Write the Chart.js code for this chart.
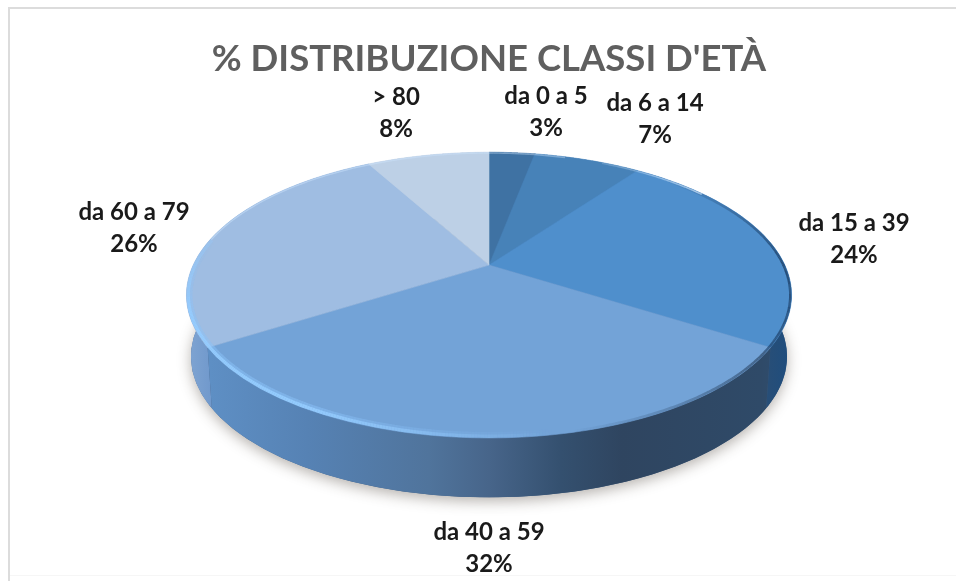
<!DOCTYPE html>
<html>
<head>
<meta charset="utf-8">
<title>Distribuzione classi d'età</title>
<script src="https://cdn.jsdelivr.net/npm/chart.js@4"></script>
<style>
    html, body { margin: 0; padding: 0; background: #fff; }
    canvas { display: block; filter: blur(0.5px); }
</style>
</head>
<body>
<canvas id="ageChart" width="956" height="581"></canvas>
<script>
// Data
const categories = ['da 0 a 5', 'da 6 a 14', 'da 15 a 39', 'da 40 a 59', 'da 60 a 79', '> 80'];
const percentages = [3, 7, 24, 32, 26, 8];
const chartTitle = "% DISTRIBUZIONE CLASSI D'ETÀ";

// Slice colours
const sliceColors = ['#3f72a3', '#4782b8', '#4f8fcc', '#73a3d7', '#9fbde2', '#bdd0e6'];

// Side wall colours, as stops of a gradient across the pie width
const wallStops = [
    [[0, '#3f72a3'], [1, '#3f72a3']],
    [[0, '#4782b8'], [1, '#4782b8']],
    [[0.93, '#2f4f72'], [1, '#1e4d7e']],
    [[0, '#6092c8'], [0.2, '#5682b4'], [0.4, '#50749c'], [0.5, '#47658a'], [0.62, '#34506f'], [0.72, '#2f4560'], [0.95, '#2f4a68'], [1, '#2f4f72']],
    [[0, '#80a5d2'], [0.04, '#7199cc'], [1, '#7199cc']],
    [[0, '#bdd0e6'], [1, '#bdd0e6']]
];

// Centres of the data labels
const labelAnchors = [[546, 112], [655, 119], [854, 239], [489, 548], [134, 228], [396, 113]];

// Perspective of the 3D pie
const spreadX = 1.644;
const spreadY = 0.759;
const tilt = 0.21;
const wallDepth = 62;
const wallShrink = 0.985;

function project(arc, angle, onBase) {
    const w = 1 - tilt * Math.sin(angle);
    const shrink = onBase ? wallShrink : 1;
    return {
        x: arc.x + spreadX * arc.outerRadius * shrink * Math.cos(angle) / w,
        y: arc.y + spreadY * arc.outerRadius * shrink * Math.sin(angle) / w + (onBase ? wallDepth : 0)
    };
}

function rimPoints(arc, from, to, onBase) {
    const points = [];
    const steps = 80;
    for (let i = 0; i <= steps; i++) {
        points.push(project(arc, from + (to - from) * i / steps, onBase));
    }
    return points;
}

function tracePoints(ctx, points) {
    points.forEach((p, i) => {
        if (i === 0) ctx.moveTo(p.x, p.y);
        else ctx.lineTo(p.x, p.y);
    });
}

function pieLeft(arc) {
    return arc.x - spreadX * arc.outerRadius / Math.sqrt(1 - tilt * tilt);
}

function pieWidth(arc) {
    return 2 * spreadX * arc.outerRadius / Math.sqrt(1 - tilt * tilt);
}

// Stroke a stretch of the top rim with the opacity fading along it
function strokeRim(ctx, arc, from, to, rgb, alphaFrom, alphaTo, width) {
    const points = rimPoints(arc, from, to, false);
    ctx.lineWidth = width;
    ctx.lineCap = 'butt';
    for (let i = 1; i < points.length; i++) {
        const alpha = alphaFrom + (alphaTo - alphaFrom) * i / (points.length - 1);
        ctx.strokeStyle = `rgba(${rgb}, ${alpha})`;
        ctx.beginPath();
        ctx.moveTo(points[i - 1].x, points[i - 1].y);
        ctx.lineTo(points[i].x, points[i].y);
        ctx.stroke();
    }
}

const pie3d = {
    id: 'pie3d',
    beforeDraw(chart) {
        // Frame of the chart, open on the right
        const ctx = chart.ctx;
        ctx.save();
        ctx.fillStyle = '#dcdcdc';
        ctx.fillRect(8, 7, chart.width - 8, 2);
        ctx.fillRect(8, 7, 2, chart.height - 7);
        ctx.fillStyle = '#f6f6f6';
        ctx.fillRect(10, 575, chart.width - 10, 1);
        ctx.restore();
    },
    beforeDatasetsDraw(chart) {
        const ctx = chart.ctx;
        const arcs = chart.getDatasetMeta(0).data;
        const first = arcs[0];
        const left = pieLeft(first);
        const width = pieWidth(first);

        ctx.save();

        // Soft shadow under the base
        ctx.save();
        ctx.shadowColor = 'rgba(60, 50, 40, 0.38)';
        ctx.shadowBlur = 14;
        ctx.shadowOffsetY = 4;
        ctx.fillStyle = '#3a5a80';
        ctx.beginPath();
        tracePoints(ctx, rimPoints(first, 0, Math.PI * 2, true));
        ctx.closePath();
        ctx.fill();
        ctx.restore();

        // Side wall
        arcs.forEach((arc, i) => {
            const gradient = ctx.createLinearGradient(left, 0, left + width, 0);
            wallStops[i].forEach(s => gradient.addColorStop(s[0], s[1]));
            const top = rimPoints(arc, arc.startAngle, arc.endAngle, false);
            const base = rimPoints(arc, arc.startAngle, arc.endAngle, true).reverse();
            ctx.beginPath();
            tracePoints(ctx, top.concat(base));
            ctx.closePath();
            ctx.fillStyle = gradient;
            ctx.fill();
        });

        // Top face
        arcs.forEach((arc, i) => {
            ctx.beginPath();
            ctx.moveTo(arc.x, arc.y);
            tracePoints(ctx, rimPoints(arc, arc.startAngle, arc.endAngle, false));
            ctx.lineTo(arc.x, arc.y);
            ctx.closePath();
            ctx.fillStyle = sliceColors[i];
            ctx.strokeStyle = sliceColors[i];
            ctx.lineWidth = 0.6;
            ctx.fill();
            ctx.stroke();
        });

        // Bevel of the rim, kept inside the top face: dark on the right, light on the left
        ctx.save();
        ctx.beginPath();
        tracePoints(ctx, rimPoints(first, 0, Math.PI * 2, false));
        ctx.closePath();
        ctx.clip();
        strokeRim(ctx, first, -0.8, 0.0, '30, 65, 105', 0, 0.85, 5);
        strokeRim(ctx, first, 0.0, 0.6, '30, 65, 105', 0.85, 0.7, 5);
        strokeRim(ctx, first, 0.6, 1.35, '40, 65, 95', 0.7, 0.0, 5);
        strokeRim(ctx, first, 1.4, 2.1, '140, 195, 250', 0, 0.5, 12);
        strokeRim(ctx, first, 2.1, 2.8, '140, 195, 250', 0.5, 0.5, 12);
        strokeRim(ctx, first, 2.8, Math.PI + 0.2, '140, 195, 250', 0.5, 0.0, 12);
        strokeRim(ctx, first, 1.4, 2.1, '150, 205, 255', 0, 0.9, 7);
        strokeRim(ctx, first, 2.1, 2.8, '150, 205, 255', 0.9, 0.9, 7);
        strokeRim(ctx, first, 2.8, Math.PI + 0.2, '150, 205, 255', 0.9, 0.3, 7);
        strokeRim(ctx, first, Math.PI + 0.2, Math.PI * 1.6, '205, 228, 252', 0.5, 0.4, 3);
        strokeRim(ctx, first, Math.PI * 1.65, Math.PI * 1.8, '215, 235, 255', 0.2, 0.7, 3);
        ctx.restore();

        // Data labels
        ctx.fillStyle = '#1a1a1a';
        ctx.font = 'bold 24px Lato, "Open Sans", sans-serif';
        ctx.textAlign = 'center';
        ctx.textBaseline = 'middle';
        arcs.forEach((arc, i) => {
            ctx.fillText(categories[i], labelAnchors[i][0], labelAnchors[i][1] - 16);
            ctx.fillText(percentages[i] + '%', labelAnchors[i][0], labelAnchors[i][1] + 16);
        });

        ctx.restore();
        return false;
    }
};

new Chart(document.getElementById('ageChart').getContext('2d'), {
    type: 'pie',
    data: {
        labels: categories,
        datasets: [{
            data: percentages,
            backgroundColor: sliceColors,
            borderWidth: 0
        }]
    },
    plugins: [pie3d],
    options: {
        responsive: false,
        animation: false,
        layout: {
            padding: { left: 22, right: 0, top: 0, bottom: 136 }
        },
        plugins: {
            legend: { display: false },
            tooltip: { enabled: false },
            title: {
                display: true,
                text: chartTitle,
                color: '#5f5f5f',
                font: { family: 'Lato, "Open Sans", sans-serif', size: 36.5, weight: 'bold', lineHeight: 1.1 },
                padding: { top: 39, bottom: 6 }
            }
        }
    }
});
</script>
</body>
</html>
